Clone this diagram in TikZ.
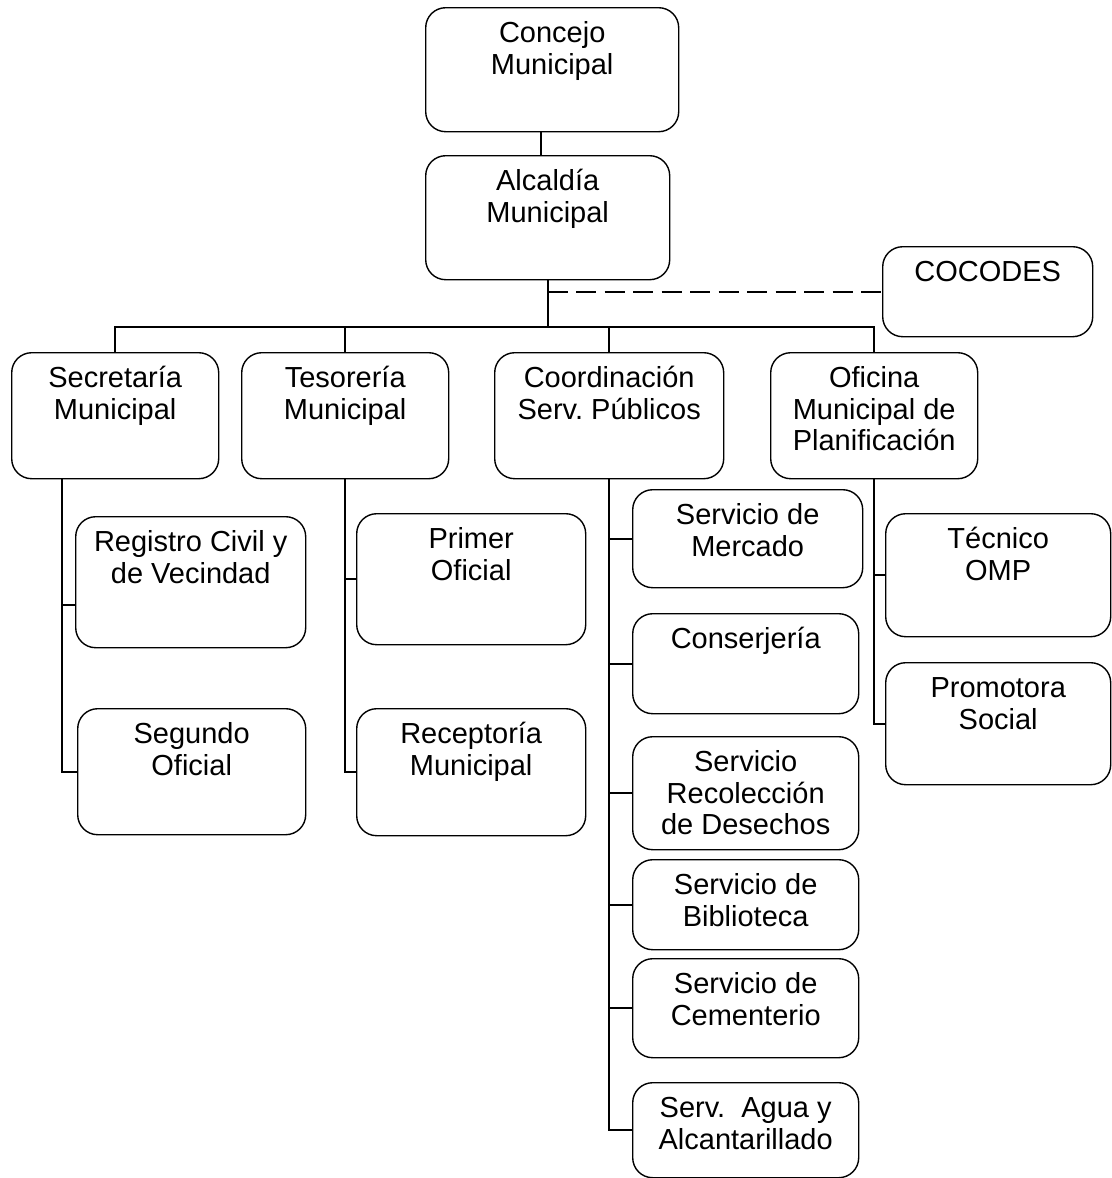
\documentclass[tikz,border=0pt]{standalone}
\usepackage{fontspec}
\setmainfont{Liberation Sans}
\frenchspacing

% text sits at the top of each box
\newcommand{\boxtext}[3]{\parbox[c][#2][t]{#1}{\centering\rule{0pt}{35bp}#3}}

\tikzset{
    box/.style={draw, line width=1.4bp, rounded corners=20bp, inner sep=0pt,
        anchor=north west, font=\fontsize{29bp}{31.5bp}\selectfont},
    link/.style={line width=1.8bp},
}

\begin{document}
\begin{tikzpicture}[x=1bp, y=-1bp]
        \useasboundingbox (0,0) rectangle (1112,1178);

        \node[box] (concejo) at (425,7) {\boxtext{253bp}{124bp}{Concejo\\Municipal}};
        \node[box] (alcaldia) at (425,155) {\boxtext{244bp}{124bp}{Alcaldía\\Municipal}};
        \node[box] (cocodes) at (882,246) {\boxtext{210bp}{90bp}{COCODES}};

        \node[box] (secretaria) at (11,352) {\boxtext{207bp}{126bp}{Secretaría\\Municipal}};
        \node[box] (tesoreria) at (241,352) {\boxtext{207bp}{126bp}{Tesorería\\Municipal}};
        \node[box] (coordinacion) at (494,352) {\boxtext{229bp}{126bp}{Coordinación\\Serv. Públicos}};
        \node[box] (oficina) at (770,352) {\boxtext{207bp}{126bp}{Oficina\\Municipal de\\Planificación}};

        \node[box] (registro) at (75,516) {\boxtext{230bp}{131bp}{Registro Civil y\\de Vecindad}};
        \node[box] (segundo) at (77,708) {\boxtext{228bp}{126bp}{Segundo\\Oficial}};
        \node[box] (primer) at (356,513) {\boxtext{229bp}{131bp}{Primer\\Oficial}};
        \node[box] (receptoria) at (356,708) {\boxtext{229bp}{127bp}{Receptoría\\Municipal}};

        \node[box] (mercado) at (632,489) {\boxtext{230bp}{98bp}{Servicio de\\Mercado}};
        \node[box] (conserjeria) at (632,613) {\boxtext{226bp}{100bp}{Conserjería}};
        \node[box] (recoleccion) at (632,736) {\boxtext{226bp}{113bp}{Servicio\\Recolección\\de Desechos}};
        \node[box] (biblioteca) at (632,859) {\boxtext{226bp}{90bp}{Servicio de\\Biblioteca}};
        \node[box] (cementerio) at (632,958) {\boxtext{226bp}{99bp}{Servicio de\\Cementerio}};
        \node[box] (agua) at (632,1082) {\boxtext{226bp}{95bp}{Serv.\ \ Agua y\\Alcantarillado}};

        \node[box] (tecnico) at (885,513) {\boxtext{225bp}{123bp}{Técnico\\OMP}};
        \node[box] (promotora) at (885,662) {\boxtext{225bp}{122bp}{Promotora\\Social}};

        % top of the chart
        \coordinate (bus) at (547,327);
        \draw[link] ([xshift=-11.5bp]concejo.south) -- ([xshift=-7bp]alcaldia.north);
        \draw[link] (alcaldia.south) -- (alcaldia.south |- bus);
        \draw[link, dash pattern=on 20bp off 8.5bp] (alcaldia.south |- cocodes.west) -- (cocodes.west);
        \draw[link] (secretaria.north) |- (bus) -| (oficina.north);
        \foreach \n in {tesoreria,coordinacion}
            \draw[link] (\n.north) -- (\n.north |- bus);

        % departments
        \coordinate (sectop) at ([xshift=-53bp]secretaria.south);
        \draw[link] (sectop) |- ([yshift=-23bp]registro.west);
        \draw[link] (sectop) |- (segundo.west);
        \foreach \n in {primer,receptoria}
            \draw[link] (tesoreria.south) |- (\n.west);
        \foreach \n in {mercado,conserjeria,recoleccion,biblioteca,cementerio,agua}
            \draw[link] (coordinacion.south) |- (\n.west);
        \foreach \n in {tecnico,promotora}
            \draw[link] (oficina.south) |- (\n.west);
    \end{tikzpicture}
\end{document}
